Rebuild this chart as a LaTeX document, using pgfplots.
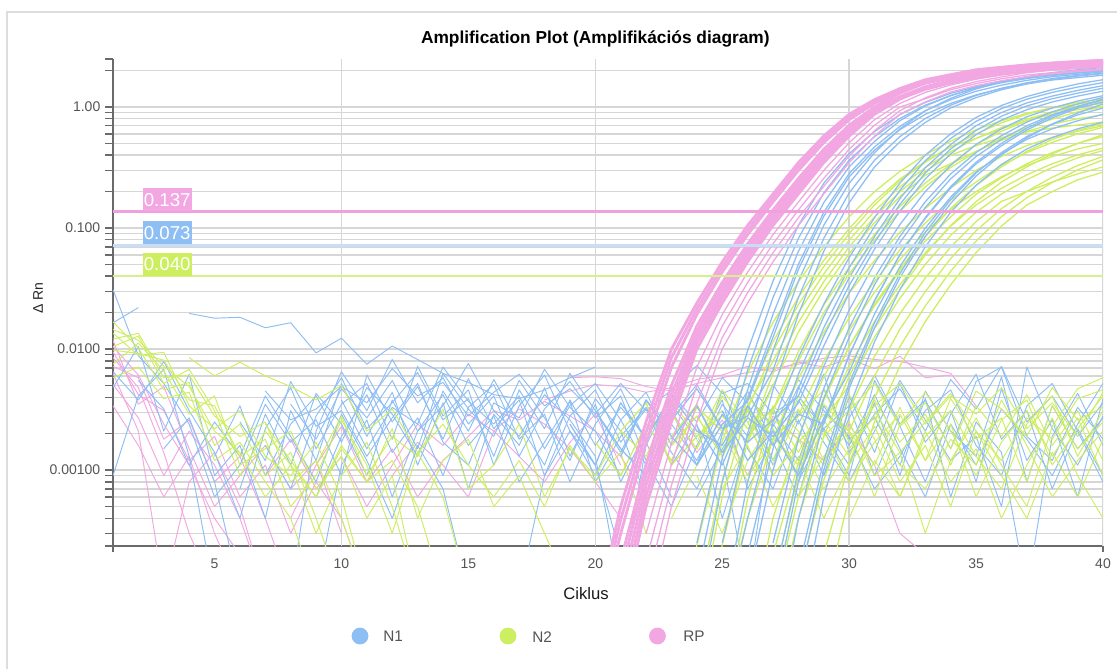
\documentclass[border=0pt]{standalone}
\usepackage{fontspec}
\setmainfont{Liberation Sans}
\usepackage{pgfplots}
\pgfplotsset{compat=1.18}
\definecolor{Nonec}{HTML}{8DBEF4}
\definecolor{Ntwoc}{HTML}{CDEE5E}
\definecolor{RPc}{HTML}{F2A6E2}
\definecolor{RPthr}{HTML}{F0A0DC}
\definecolor{Nonethr}{HTML}{C8DDF8}
\definecolor{Ntwothr}{HTML}{D6F08A}
\definecolor{gridc}{HTML}{D6D6D6}
\definecolor{axc}{HTML}{6A6A6A}
\definecolor{labc}{HTML}{555555}
\definecolor{framec}{HTML}{DDDDDD}
\pgfplotsset{
  nz/.style={line width=0.7pt, line join=round},
  cv/.style={line width=0.95pt, line join=round},
  cvt/.style={line width=2.1pt, line join=round},
}
\begin{document}
\begin{tikzpicture}
\useasboundingbox (0,0) rectangle (837.75pt,-501.75pt);
\fill[white] (0,0) rectangle (837.75pt,-501.75pt);
\draw[framec, line width=1pt] (5.25pt,-501.75pt) -- (5.25pt,-9pt) -- (837.75pt,-9pt);
\begin{axis}[
  at={(84.75pt,-409.5pt)}, anchor=south west,
  scale only axis, width=742.5pt, height=365.4pt,
  xmin=1, xmax=40, ymode=log, ymin=0.000236, ymax=2.5,
  axis lines*=left,
  axis line style={draw=axc, line width=1.1pt},
  xtick={5,10,15,20,25,30,35,40},
  ytick={0.001,0.01,0.1,1},
  yticklabels={0.00100,0.0100,0.100,1.00},
  minor ytick={0.0003,0.0004,0.0005,0.0006,0.0007,0.0008,0.0009,0.002,0.003,0.004,0.005,0.006,0.007,0.008,0.009,0.02,0.03,0.04,0.05,0.06,0.07,0.08,0.09,0.2,0.3,0.4,0.5,0.6,0.7,0.8,0.9,2},
  tick align=outside, major tick length=6pt, minor tick length=6pt,
  tick style={draw=axc, line width=1.1pt},
  xtick style={draw=none},
  ymajorgrids, yminorgrids,
  major grid style={draw=gridc, line width=1.1pt},
  minor grid style={draw=gridc, line width=1.1pt},
  /pgf/number format/assume math mode=true,
  ticklabel style={font=\fontsize{10.5}{12}\selectfont, text=labc},
  clip=true,
]
% vertical grid lines
\draw[gridc, line width=1.1pt] (axis cs:10,0.000236) -- (axis cs:10,2.5);
\draw[gridc, line width=1.1pt] (axis cs:20,0.000236) -- (axis cs:20,2.5);
\draw[gridc, line width=1.1pt] (axis cs:30,0.000236) -- (axis cs:30,2.5);
\draw[gridc, line width=1.1pt] (axis cs:40,0.000236) -- (axis cs:40,2.5);

% ---------------- RP noise ----------------
\addplot[RPc, nz] coordinates {(1,0.0095)(2,0.0042)(3,0.0031)(4,0.0012)(5,0.0019)(6,0.0006)(7,0.0011)(8,0.0003)(9,0.0008)(10,0.0004)(11,0.0001)};
\addplot[RPc, nz] coordinates {(1,0.0072)(2,0.0058)(3,0.0018)(4,0.0026)(5,0.0008)(6,0.0013)(7,0.0004)(8,0.0001)};
\addplot[RPc, nz] coordinates {(1,0.0118)(2,0.0035)(3,0.0049)(4,0.0015)(5,0.0005)(6,0.0009)(7,0.0016)(8,0.0007)(9,0.0012)(10,0.0003)};
\addplot[RPc, nz] coordinates {(1,0.0051)(2,0.0027)(3,0.0009)(4,0.0021)(5,0.0011)(6,0.0004)(7,0.0001)};
\addplot[RPc, nz] coordinates {(1,0.0063)(2,0.0021)(3,0.0001)(4,0.0008)(5,0.0014)(6,0.0005)(7,0.0001)};
\addplot[RPc, nz] coordinates {(1,0.0105)(2,0.0061)(3,0.0024)(4,0.0011)(5,0.0004)(6,0.0002)};
\addplot[RPc, nz] coordinates {(1,0.0085)(2,0.0048)(3,0.0014)(4,0.0003)(5,0.0001)};
\addplot[RPc, nz] coordinates {(1,0.0034)(2,0.0016)(3,0.0006)(4,0.0013)(5,0.0003)(6,0.0001)};
\addplot[RPc, nz] coordinates {(7,0.0009)(8,0.0018)(9,0.0007)(10,0.0013)(11,0.0005)(12,0.0011)(13,0.0024)(14,0.0016)(15,0.0029)(16,0.0021)(17,0.0032)(18,0.0024)(19,0.0015)(20,0.0008)(21,0.0004)};
\addplot[RPc, nz] coordinates {(8,0.0004)(9,0.0011)(10,0.0023)(11,0.0008)(12,0.0015)(13,0.0006)(14,0.0012)(15,0.0019)(16,0.0031)(17,0.0026)(18,0.0037)(19,0.0028)(20,0.0021)(21,0.0013)(22,0.0006)};
\addplot[RPc, nz] coordinates {(18,0.0038)(19,0.0045)(20,0.0051)(21,0.0049)(22,0.0044)(23,0.0048)(24,0.0056)(25,0.0061)(26,0.0072)(27,0.0065)(28,0.0078)(29,0.0071)(30,0.0083)(31,0.0069)(32,0.0087)(33,0.0058)(34,0.0061)};
\addplot[RPc, nz] coordinates {(19,0.0058)(20,0.0059)(21,0.0057)(22,0.0049)(23,0.0045)(24,0.0052)(25,0.0058)(26,0.0064)(27,0.0069)(28,0.0075)(29,0.0084)(30,0.0088)(31,0.0082)(32,0.0079)(33,0.0071)(34,0.0063)(35,0.0034)};
\addplot[RPc, nz] coordinates {(22,0.0022)(23,0.0031)(24,0.0014)(25,0.0026)(26,0.0009)(27,0.0028)(28,0.0018)(29,0.0012)(30,0.0024)(31,0.0011)(32,0.0003)(33,0.0002)};
\addplot[RPc, nz] coordinates {(12,0.0009)(13,0.0017)(14,0.0011)(15,0.0006)(16,0.0021)(17,0.0013)(18,0.0008)(19,0.0017)(20,0.0029)(21,0.0011)};

% ---------------- N1 noise ----------------
\addplot[Nonec, nz] coordinates {(1,0.0048)(2,0.0105)(3,0.0021)(4,0.0062)(5,0.0009)(6,0.0016)(7,0.0004)(8,0.0031)(9,0.0012)(10,0.0052)(11,0.0019)(12,0.0044)(13,0.0011)(14,0.0036)(15,0.0007)(16,0.0029)(17,0.0016)(18,0.0048)(19,0.0013)(20,0.0035)(21,0.0008)(22,0.0021)(23,0.0031)(24,0.0011)(25,0.0046)(26,0.0015)(27,0.0007)(28,0.0026)(29,0.0009)(30,0.0041)(31,0.0014)(32,0.0052)(33,0.0017)(34,0.0031)(35,0.0008)(36,0.0047)(37,0.0012)(38,0.0026)(39,0.0006)(40,0.0039)};
\addplot[Nonec, nz] coordinates {(1,0.031)(2,0.0088)(3,0.0052)(4,0.0024)(5,0.0006)(6,0.0011)(7,0.0035)(8,0.0017)(9,0.0026)(10,0.0009)(11,0.0061)(12,0.0025)(13,0.0049)(14,0.0018)(15,0.0057)(16,0.0022)(17,0.0038)(18,0.0009)(19,0.0028)(20,0.0046)(21,0.0017)(22,0.0032)(23,0.0011)(24,0.0024)(25,0.0004)(26,0.0019)(27,0.0033)(28,0.0008)(29,0.0022)(30,0.0011)(31,0.0036)(32,0.0009)(33,0.0045)(34,0.0021)(35,0.0013)(36,0.0059)(37,0.0008)(38,0.0034)(39,0.0015)(40,0.0027)};
\addplot[Nonec, nz] coordinates {(1,0.0009)(2,0.0041)(3,0.0068)(4,0.0013)(5,0.0001)(8,0.0001)(9,0.0021)(10,0.0065)(11,0.0031)(12,0.0082)(13,0.0036)(14,0.0058)(15,0.0024)(16,0.0041)(17,0.0013)(18,0.0032)(19,0.0054)(20,0.0027)(21,0.0041)(22,0.0012)(23,0.0005)(24,0.0016)(25,0.0038)(26,0.0007)(27,0.0018)(28,0.0049)(29,0.0021)(30,0.0009)(31,0.0055)(32,0.0023)(33,0.0008)(34,0.0029)(35,0.0062)(36,0.0018)(37,0.0031)(38,0.0007)(39,0.0022)(40,0.0009)};
\addplot[Nonec, nz] coordinates {(1,0.0065)(2,0.0038)(3,0.0079)(4,0.0031)(5,0.0014)(6,0.0004)(7,0.0022)(8,0.0048)(9,0.0015)(10,0.0035)(11,0.0052)(12,0.0018)(13,0.0072)(14,0.0028)(15,0.0046)(16,0.0011)(17,0.0034)(18,0.0061)(19,0.0021)(20,0.0009)(21,0.0026)(22,0.0044)(23,0.0016)(24,0.0035)(25,0.0013)(26,0.0001)(27,0.0024)(28,0.0012)(29,0.0047)(30,0.0018)(31,0.0027)(32,0.0011)(33,0.0039)(34,0.0006)(35,0.0025)(36,0.0014)(37,0.0001)(38,0.0019)(39,0.0043)(40,0.0016)};
\addplot[Nonec, nz] coordinates {(6,0.0007)(7,0.0029)(8,0.0011)(9,0.0043)(10,0.0024)(11,0.0009)(12,0.0038)(13,0.0015)(14,0.0063)(15,0.0032)(16,0.0019)(17,0.0055)(18,0.0027)(19,0.0012)(20,0.0039)(21,0.0021)(22,0.0006)(23,0.0028)(24,0.0051)(25,0.0022)(26,0.0033)(27,0.0009)};
\addplot[Nonec, nz] coordinates {(8,0.0035)(9,0.0018)(10,0.0047)(11,0.0027)(12,0.0055)(13,0.0021)(14,0.0034)(15,0.0076)(16,0.0031)(17,0.0019)(18,0.0042)(19,0.0026)(20,0.0013)(21,0.0001)(22,0.0016)(23,0.0042)(24,0.0025)(25,0.0058)(26,0.0036)(27,0.0012)(28,0.0031)};
\addplot[Nonec, nz] coordinates {(3,0.0015)(4,0.0027)(5,0.0008)(6,0.0001)(9,0.0001)(10,0.0011)(11,0.0026)(12,0.0006)(13,0.0021)(14,0.0042)(15,0.0016)(16,0.0028)(17,0.0008)(18,0.0017)(19,0.0037)(20,0.0008)(21,0.0019)(22,0.0033)(23,0.0014)(24,0.0007)(25,0.0021)(26,0.0045)(27,0.0017)(28,0.0006)(29,0.0034)(30,0.0016)(31,0.0042)(32,0.0015)(33,0.0006)(34,0.0024)(35,0.0011)(36,0.0032)(37,0.0018)(38,0.0009)(39,0.0024)(40,0.0052)};
\addplot[Nonec, nz] coordinates {(7,0.0045)(8,0.0026)(9,0.0032)(10,0.0049)(11,0.0036)(12,0.0069)(13,0.0041)(14,0.0053)(15,0.0028)(16,0.0044)(17,0.0062)(18,0.0034)(19,0.0047)(20,0.0029)(21,0.0052)(22,0.0031)(23,0.0046)(24,0.0073)(25,0.0043)(26,0.0052)(27,0.0029)(28,0.0041)(29,0.0022)(30,0.0034)(31,0.0009)(32,0.0028)};
\addplot[Nonec, nz] coordinates {(4,0.0197)(5,0.018)(6,0.0183)(7,0.015)(8,0.0165)(9,0.0093)(10,0.0123)(11,0.0075)(12,0.0106)(13,0.0082)(14,0.0063)(15,0.0053)(16,0.0042)(17,0.0039)(18,0.0046)(19,0.0058)(20,0.0071)};
\addplot[Nonec, nz] coordinates {(1,0.0165)(2,0.022)};
\addplot[Nonec, nz] coordinates {(22,0.0009)(23,0.0024)(24,0.0012)(25,0.0035)(26,0.0019)(27,0.0051)(28,0.0024)(29,0.0062)(30,0.0014)(31,0.0029)(32,0.0047)(33,0.0021)(34,0.0056)(35,0.0032)(36,0.0072)(37,0.0025)(38,0.0041)(39,0.0019)(40,0.0036)};
\addplot[Nonec, nz] coordinates {(24,0.0006)(25,0.0015)(26,0.0032)(27,0.0011)(28,0.0038)(29,0.0017)(30,0.0008)(31,0.0021)(32,0.0055)(33,0.0026)(34,0.0012)(35,0.0019)(36,0.0005)(37,0.0071)(38,0.0022)(39,0.0011)(40,0.0028)};
\addplot[Nonec, nz] coordinates {(5,0.0013)(6,0.0034)(7,0.0009)(8,0.0024)(9,0.0041)(10,0.0017)(11,0.0048)(12,0.0029)(13,0.0013)(14,0.0045)(15,0.0021)(16,0.0056)(17,0.0024)(18,0.0011)(19,0.0038)(20,0.0016)(21,0.0033)(22,0.0019)};
\addplot[Nonec, nz] coordinates {(7,0.0016)(8,0.0007)(9,0.0028)(10,0.0058)(11,0.0022)(12,0.0036)(13,0.0064)(14,0.0026)(15,0.0039)(16,0.0013)(17,0.0046)(18,0.0022)(19,0.0063)(20,0.0031)(21,0.0014)(22,0.0038)(23,0.0022)};
\addplot[Nonec, nz] coordinates {(9,0.0006)(10,0.0019)(11,0.0042)(12,0.0014)(13,0.0027)(14,0.0009)(15,0.0033)(16,0.0051)(17,0.0018)(18,0.0029)(19,0.0008)(20,0.0024)(21,0.0047)(22,0.0017)(23,0.0006)};
\addplot[Nonec, nz] coordinates {(6,0.0025)(7,0.0012)(8,0.0054)(9,0.0023)(10,0.0031)(11,0.0013)(12,0.0027)(13,0.0052)(14,0.0017)(15,0.0011)(16,0.0036)(17,0.0027)(18,0.0068)(19,0.0033)(20,0.0021)(21,0.0009)};
\addplot[Nonec, nz] coordinates {(10,0.0038)(11,0.0015)(12,0.0033)(13,0.0024)(14,0.0071)(15,0.0037)(16,0.0024)(17,0.0041)(18,0.0015)(19,0.0034)(20,0.0052)(21,0.0026)(22,0.0011)(23,0.0035)(24,0.0018)};
\addplot[Nonec, nz] coordinates {(2,0.0055)(3,0.0032)(4,0.0011)(5,0.0025)(6,0.0013)(7,0.0041)(8,0.0019)(9,0.0008)(10,0.0029)(11,0.0012)(12,0.0004)(13,0.0016)(14,0.0007)(15,0.0001)(17,0.0001)(18,0.0009)(19,0.0021)(20,0.0011)(21,0.0002)};
\addplot[Nonec, nz] coordinates {(26,0.0041)(27,0.0023)(28,0.0056)(29,0.0031)(30,0.0019)(31,0.0007)(32,0.0013)(33,0.0031)(34,0.0046)(35,0.0016)(36,0.0009)(37,0.0034)(38,0.0052)(39,0.0021)(40,0.0008)};
\addplot[Nonec, nz] coordinates {(29,0.0009)(30,0.0027)(31,0.0061)(32,0.0024)(33,0.0038)(34,0.0015)(35,0.0054)(36,0.0071)(37,0.0019)(38,0.0012)(39,0.0033)(40,0.0018)};

% ---------------- N2 noise ----------------
\addplot[Ntwoc, nz] coordinates {(1,0.0145)(2,0.0118)(3,0.0072)(4,0.0049)(5,0.0021)(6,0.0014)(7,0.0006)(8,0.0011)(9,0.0003)(10,0.0009)(11,0.0017)(12,0.0005)(13,0.0001)};
\addplot[Ntwoc, nz] coordinates {(1,0.0121)(2,0.0135)(3,0.0058)(4,0.0061)(5,0.0028)(6,0.0019)(7,0.0025)(8,0.0008)(9,0.0012)(10,0.0004)(11,0.0001)};
\addplot[Ntwoc, nz] coordinates {(1,0.0098)(2,0.0092)(3,0.0081)(4,0.0038)(5,0.0034)(6,0.0013)(7,0.0018)(8,0.0005)(9,0.0009)(10,0.0026)(11,0.0011)(12,0.0003)(13,0.0014)(14,0.0006)(15,0.0001)};
\addplot[Ntwoc, nz] coordinates {(1,0.0168)(2,0.0102)(3,0.0046)(4,0.0053)(5,0.0016)(6,0.0024)(7,0.0009)(8,0.0014)(9,0.0004)(10,0.0001)};
\addplot[Ntwoc, nz] coordinates {(1,0.0075)(2,0.0112)(3,0.0066)(4,0.0029)(5,0.0041)(6,0.0011)(7,0.0015)(8,0.0021)(9,0.0007)(10,0.0013)(11,0.0004)(12,0.0009)(13,0.0001)};
\addplot[Ntwoc, nz] coordinates {(4,0.0085)(5,0.006)(6,0.0078)(7,0.006)(8,0.0049)(9,0.0038)(10,0.005)(11,0.0021)(12,0.0032)(13,0.0014)(14,0.0024)(15,0.0011)(16,0.0006)(17,0.0012)(18,0.0005)(19,0.0016)(20,0.0008)(21,0.0014)(22,0.0003)};
\addplot[Ntwoc, nz] coordinates {(1,0.0058)(2,0.0071)(3,0.0039)(4,0.0044)(5,0.0012)(6,0.0017)(7,0.0008)(8,0.0004)(9,0.0001)};
\addplot[Ntwoc, nz] coordinates {(1,0.0135)(2,0.0089)(3,0.0094)(4,0.0034)(5,0.0022)(6,0.0031)(7,0.0013)(8,0.0009)(9,0.0017)(10,0.0006)(11,0.0001)};
\addplot[Ntwoc, nz] coordinates {(1,0.0105)(2,0.0128)(3,0.0052)(4,0.0068)(5,0.0031)(6,0.0009)(7,0.0021)(8,0.0011)(9,0.0006)(10,0.0016)(11,0.0008)(12,0.0012)(13,0.0005)(14,0.0001)};
\addplot[Ntwoc, nz] coordinates {(9,0.0011)(10,0.0028)(11,0.0009)(12,0.0019)(13,0.0013)(14,0.0032)(15,0.0007)(16,0.0011)(17,0.0024)(18,0.0006)(19,0.0015)(20,0.0009)(21,0.0021)(22,0.0013)(23,0.0038)(24,0.0019)(25,0.0031)};
\addplot[Ntwoc, nz] coordinates {(7,0.0024)(8,0.0012)(9,0.0006)(10,0.0015)(11,0.0008)(12,0.0022)(13,0.0004)(14,0.0012)(15,0.0018)(16,0.0005)(17,0.0009)(18,0.0003)(19,0.0001)};
\addplot[Ntwoc, nz] coordinates {(22,0.0008)(23,0.0019)(24,0.0035)(25,0.0014)(26,0.0041)(27,0.0022)(28,0.0009)(29,0.0026)(30,0.0013)(31,0.0038)(32,0.0017)(33,0.0029)(34,0.0011)(35,0.0034)(36,0.0019)(37,0.0042)(38,0.0016)(39,0.0031)(40,0.0012)};
\addplot[Ntwoc, nz] coordinates {(23,0.0004)(24,0.0011)(25,0.0024)(26,0.0009)(27,0.0017)(28,0.0032)(29,0.0012)(30,0.0021)(31,0.0006)(32,0.0024)(33,0.0044)(34,0.0021)(35,0.0009)(36,0.0026)(37,0.0038)(38,0.0011)(39,0.0022)(40,0.0041)};
\addplot[Ntwoc, nz] coordinates {(24,0.0017)(25,0.0046)(26,0.0025)(27,0.0031)(28,0.0014)(29,0.0035)(30,0.0021)(31,0.0011)(32,0.0033)(33,0.0012)(34,0.0039)(35,0.0018)(36,0.0027)(37,0.0008)(38,0.0034)(39,0.0015)(40,0.0025)};
\addplot[Ntwoc, nz] coordinates {(25,0.0007)(26,0.0016)(27,0.0005)(28,0.0013)(29,0.0004)(30,0.0011)(31,0.0023)(32,0.0008)(33,0.0016)(34,0.0005)(35,0.0021)(36,0.0009)(37,0.0004)(38,0.0014)(39,0.0006)(40,0.0018)};
\addplot[Ntwoc, nz] coordinates {(26,0.0028)(27,0.0012)(28,0.0041)(29,0.0019)(30,0.0031)(31,0.0052)(32,0.0023)(33,0.0036)(34,0.0015)(35,0.0045)(36,0.0032)(37,0.0019)(38,0.0048)(39,0.0026)(40,0.0033)};
\addplot[Ntwoc, nz] coordinates {(28,0.0006)(29,0.0013)(30,0.0025)(31,0.0009)(32,0.0014)(33,0.0003)(34,0.0012)(35,0.0027)(36,0.0011)(37,0.0005)(38,0.0023)(39,0.0047)(40,0.0058)};
\addplot[Ntwoc, nz] coordinates {(29,0.0021)(30,0.0008)(31,0.0017)(32,0.0029)(33,0.0012)(34,0.0024)(35,0.0006)(36,0.0017)(37,0.0031)(38,0.0013)(39,0.0027)(40,0.0009)};
\addplot[Ntwoc, nz] coordinates {(24,0.0009)(25,0.0003)(26,0.0012)(27,0.0026)(28,0.0018)(29,0.0007)(30,0.0015)(31,0.0028)(32,0.0011)(33,0.0007)(34,0.0018)(35,0.0011)(36,0.0038)(37,0.0016)(38,0.0006)(39,0.0012)(40,0.0021)};
\addplot[Ntwoc, nz] coordinates {(27,0.0011)(28,0.0028)(29,0.0046)(30,0.0017)(31,0.0034)(32,0.0052)(33,0.0024)(34,0.0041)(35,0.0029)(36,0.0048)(37,0.0022)(38,0.0036)(39,0.0019)(40,0.0044)};
\addplot[Ntwoc, nz] coordinates {(30,0.0004)(31,0.0012)(32,0.0006)(33,0.0021)(34,0.0008)(35,0.0015)(36,0.0004)(37,0.0011)(38,0.0027)(39,0.0009)(40,0.0004)};
\addplot[Ntwoc, nz] coordinates {(31,0.0031)(32,0.0014)(33,0.0025)(34,0.0043)(35,0.0021)(36,0.0012)(37,0.0027)(38,0.0018)(39,0.0039)(40,0.0046)};
\addplot[Ntwoc, nz] coordinates {(25,0.0021)(26,0.0008)(27,0.0034)(28,0.0021)(29,0.0011)(30,0.0042)(31,0.0018)(32,0.0006)(33,0.0019)(34,0.0031)(35,0.0013)(36,0.0007)(37,0.0024)(38,0.0041)(39,0.0013)(40,0.0031)};

% ---------------- N2 amplification, late group ----------------
\addplot[Ntwoc, cv] coordinates {(27,0.0002)(28,0.00115)(29,0.00398)(30,0.0105)(31,0.0227)(32,0.044)(33,0.078)(34,0.1236)(35,0.19)(36,0.26)(37,0.34)(38,0.42)(39,0.5)(40,0.57)};
\addplot[Ntwoc, cv] coordinates {(27,0.00008)(28,0.0006)(29,0.00251)(30,0.00724)(31,0.0169)(32,0.034)(33,0.0625)(34,0.1038)(35,0.155)(36,0.213)(37,0.275)(38,0.34)(39,0.402)(40,0.457)};
\addplot[Ntwoc, cv] coordinates {(25,0.0014)(26,0.0032)(27,0.0019)(28,0.0011)(29,0.0026)(30,0.00501)(31,0.0126)(32,0.0263)(33,0.0501)(34,0.0871)(35,0.135)(36,0.191)(37,0.251)(38,0.316)(39,0.38)(40,0.437)};
\addplot[Ntwoc, cv] coordinates {(28,0.000126)(29,0.00083)(30,0.00316)(31,0.0087)(32,0.0196)(33,0.0387)(34,0.0698)(35,0.113)(36,0.166)(37,0.2)(38,0.24)(39,0.28)(40,0.32)};
\addplot[Ntwoc, cv] coordinates {(26,0.0025)(27,0.0009)(28,0.0017)(29,0.0029)(30,0.0021)(31,0.006)(32,0.0146)(33,0.0299)(34,0.056)(35,0.095)(36,0.1445)(37,0.201)(38,0.263)(39,0.328)(40,0.391)};
\addplot[Ntwoc, cv] coordinates {(29,0.0002)(30,0.00115)(31,0.00398)(32,0.0105)(33,0.0227)(34,0.044)(35,0.078)(36,0.124)(37,0.178)(38,0.238)(39,0.302)(40,0.366)};
\addplot[Ntwoc, cv] coordinates {(29,0.00008)(30,0.0006)(31,0.00251)(32,0.00724)(33,0.0169)(34,0.034)(35,0.0625)(36,0.1038)(37,0.155)(38,0.2)(39,0.25)(40,0.29)};
\addplot[Ntwoc, cv] coordinates {(27,0.00005)(28,0.0004)(29,0.0019)(30,0.006)(31,0.0148)(32,0.031)(33,0.06)(34,0.105)(35,0.165)(36,0.24)(37,0.32)(38,0.41)(39,0.5)(40,0.59)};
\addplot[Ntwoc, cv] coordinates {(27,0.00012)(28,0.0009)(29,0.0038)(30,0.0105)(31,0.0235)(32,0.046)(33,0.085)(34,0.145)(35,0.225)(36,0.32)(37,0.43)(38,0.54)(39,0.64)(40,0.73)};
% middle group
\addplot[Ntwoc, cv] coordinates {(23,0.0016)(24,0.0028)(25,0.0013)(26,0.0031)(27,0.0019)(28,0.00282)(29,0.00794)(30,0.0182)(31,0.0363)(32,0.066)(33,0.11)(34,0.17)(35,0.24)(36,0.33)(37,0.42)(38,0.51)(39,0.6)(40,0.68)};
\addplot[Ntwoc, cv] coordinates {(25,0.00006)(26,0.0004)(27,0.0018)(28,0.0057)(29,0.0138)(30,0.029)(31,0.054)(32,0.092)(33,0.145)(34,0.215)(35,0.3)(36,0.39)(37,0.48)(38,0.56)(39,0.63)(40,0.7)};
\addplot[Ntwoc, cv] coordinates {(26,0.00004)(27,0.0004)(28,0.0019)(29,0.0059)(30,0.0142)(31,0.0295)(32,0.055)(33,0.093)(34,0.143)(35,0.2)(36,0.265)(37,0.33)(38,0.39)(39,0.45)(40,0.5)};

% ---------------- N2 amplification, early group ----------------
\addplot[Ntwoc, cv] coordinates {(23,0.00003)(24,0.00024)(25,0.00174)(26,0.0063)(27,0.0166)(28,0.036)(29,0.0698)(30,0.124)(31,0.2)(32,0.294)(33,0.402)(34,0.522)(35,0.649)(36,0.769)(37,0.887)(38,0.982)(39,1.057)(40,1.12)};
\addplot[Ntwoc, cv] coordinates {(24,0.000087)(25,0.00083)(26,0.00398)(27,0.0115)(28,0.0268)(29,0.054)(30,0.099)(31,0.166)(32,0.254)(33,0.356)(34,0.472)(35,0.55)(36,0.66)(37,0.77)(38,0.87)(39,0.95)(40,1.01)};
\addplot[Ntwoc, cv] coordinates {(20,0.0017)(21,0.0009)(22,0.0024)(23,0.0012)(24,0.0033)(25,0.0021)(26,0.0034)(27,0.00794)(28,0.02)(29,0.0417)(30,0.0794)(31,0.138)(32,0.219)(33,0.316)(34,0.427)(35,0.55)(36,0.676)(37,0.794)(38,0.912)(39,1.0)(40,1.072)};
\addplot[Ntwoc, cv] coordinates {(21,0.0021)(22,0.0036)(23,0.0011)(24,0.0019)(25,0.0028)(26,0.0017)(27,0.005)(28,0.0138)(29,0.031)(30,0.0614)(31,0.1107)(32,0.182)(33,0.273)(34,0.34)(35,0.43)(36,0.53)(37,0.63)(38,0.72)(39,0.8)(40,0.86)};
\addplot[Ntwoc, cv] coordinates {(25,0.00005)(26,0.00058)(27,0.00316)(28,0.00955)(29,0.0231)(30,0.0474)(31,0.0887)(32,0.151)(33,0.236)(34,0.336)(35,0.49)(36,0.63)(37,0.77)(38,0.9)(39,1.02)(40,1.12)};
\addplot[Ntwoc, cv] coordinates {(24,0.00003)(25,0.00024)(26,0.00174)(27,0.0063)(28,0.0166)(29,0.036)(30,0.0698)(31,0.1236)(32,0.1995)(33,0.294)(34,0.40)(35,0.48)(36,0.56)(37,0.62)(38,0.67)(39,0.71)(40,0.75)};
\addplot[Ntwoc, cv] coordinates {(22,0.0012)(23,0.0029)(24,0.0015)(25,0.0041)(26,0.0022)(27,0.0031)(28,0.00794)(29,0.02)(30,0.0417)(31,0.0794)(32,0.138)(33,0.219)(34,0.316)(35,0.427)(36,0.55)(37,0.676)(38,0.794)(39,0.912)(40,1.0)};
\addplot[Ntwoc, cv] coordinates {(24,0.00005)(25,0.0006)(26,0.0032)(27,0.0096)(28,0.0233)(29,0.048)(30,0.09)(31,0.155)(32,0.245)(33,0.35)(34,0.47)(35,0.6)(36,0.74)(37,0.87)(38,0.99)(39,1.09)(40,1.17)};

% ---------------- N1 amplification, late group ----------------
\addplot[Nonec, cv] coordinates {(27,0.000112)(28,0.001)(29,0.00473)(30,0.015)(31,0.0389)(32,0.0851)(33,0.165)(34,0.28)(35,0.42)(36,0.58)(37,0.75)(38,0.91)(39,1.06)(40,1.2)};
\addplot[Nonec, cv] coordinates {(27,0.00003)(28,0.000398)(29,0.00251)(30,0.00891)(31,0.0251)(32,0.0603)(33,0.122)(34,0.22)(35,0.35)(36,0.5)(37,0.67)(38,0.84)(39,1.0)(40,1.15)};
\addplot[Nonec, cv] coordinates {(24,0.0023)(25,0.0011)(26,0.0034)(27,0.0016)(28,0.0029)(29,0.0024)(30,0.00891)(31,0.0251)(32,0.0603)(33,0.120)(34,0.214)(35,0.339)(36,0.479)(37,0.646)(38,0.813)(39,0.977)(40,1.1)};
\addplot[Nonec, cv] coordinates {(28,0.000112)(29,0.001)(30,0.00473)(31,0.015)(32,0.0389)(33,0.0851)(34,0.160)(35,0.269)(36,0.403)(37,0.556)(38,0.724)(39,0.891)(40,1.059)};
\addplot[Nonec, cv] coordinates {(25,0.0031)(26,0.0012)(27,0.0021)(28,0.0009)(29,0.0027)(30,0.0065)(31,0.0195)(32,0.048)(33,0.1)(34,0.18)(35,0.29)(36,0.41)(37,0.54)(38,0.66)(39,0.77)(40,0.87)};
\addplot[Nonec, cv] coordinates {(27,0.00008)(28,0.0008)(29,0.0039)(30,0.0125)(31,0.034)(32,0.076)(33,0.148)(34,0.255)(35,0.39)(36,0.54)(37,0.7)(38,0.86)(39,1.01)(40,1.16)};
\addplot[Nonec, cv] coordinates {(28,0.00005)(29,0.0006)(30,0.0033)(31,0.0115)(32,0.031)(33,0.07)(34,0.135)(35,0.225)(36,0.335)(37,0.45)(38,0.56)(39,0.66)(40,0.75)};
\addplot[Nonec, cv] coordinates {(28,0.00015)(29,0.0012)(30,0.0052)(31,0.0165)(32,0.042)(33,0.092)(34,0.172)(35,0.285)(36,0.42)(37,0.57)(38,0.72)(39,0.86)(40,0.98)};

% ---------------- N1 amplification, middle group ----------------
\addplot[Nonec, cv] coordinates {(25,0.00005)(26,0.0004)(27,0.0025)(28,0.0085)(29,0.0235)(30,0.057)(31,0.122)(32,0.235)(33,0.40)(34,0.6)(35,0.82)(36,1.03)(37,1.22)(38,1.39)(39,1.55)(40,1.68)};
\addplot[Nonec, cv] coordinates {(26,0.000112)(27,0.001)(28,0.00473)(29,0.015)(30,0.0389)(31,0.0851)(32,0.175)(33,0.315)(34,0.49)(35,0.7)(36,0.9)(37,1.08)(38,1.23)(39,1.37)(40,1.5)};
\addplot[Nonec, cv] coordinates {(23,0.0018)(24,0.0034)(25,0.0014)(26,0.0027)(27,0.0019)(28,0.0036)(29,0.0106)(30,0.029)(31,0.067)(32,0.138)(33,0.255)(34,0.41)(35,0.59)(36,0.78)(37,0.95)(38,1.1)(39,1.23)(40,1.35)};
\addplot[Nonec, cv] coordinates {(27,0.00025)(28,0.0018)(29,0.0072)(30,0.021)(31,0.051)(32,0.107)(33,0.2)(34,0.33)(35,0.49)(36,0.66)(37,0.83)(38,0.98)(39,1.12)(40,1.24)};
\addplot[Nonec, cv] coordinates {(26,0.0002)(27,0.0015)(28,0.0062)(29,0.0185)(30,0.047)(31,0.103)(32,0.205)(33,0.36)(34,0.55)(35,0.76)(36,0.97)(37,1.16)(38,1.32)(39,1.46)(40,1.59)};
\addplot[Nonec, cv] coordinates {(24,0.0011)(25,0.0029)(26,0.0017)(27,0.0026)(28,0.0041)(29,0.0128)(30,0.0335)(31,0.076)(32,0.157)(33,0.285)(34,0.45)(35,0.64)(36,0.84)(37,1.02)(38,1.17)(39,1.3)(40,1.43)};

% ---------------- N1 amplification, early group ----------------
\addplot[Nonec, cv] coordinates {(24,0.000126)(25,0.00126)(26,0.00668)(27,0.0266)(28,0.0822)(29,0.195)(30,0.363)(31,0.569)(32,0.804)(33,1.035)(34,1.245)(35,1.429)(36,1.585)(37,1.718)(38,1.82)(39,1.905)(40,1.985)};
\addplot[Nonec, cv] coordinates {(24,0.000063)(25,0.000794)(26,0.0046)(27,0.0194)(28,0.0642)(29,0.162)(30,0.32)(31,0.52)(32,0.77)(33,1.02)(34,1.24)(35,1.45)(36,1.62)(37,1.77)(38,1.89)(39,1.98)(40,2.06)};
\addplot[Nonec, cv] coordinates {(19,0.0024)(20,0.0011)(21,0.0036)(22,0.0018)(23,0.0042)(24,0.0021)(25,0.0016)(26,0.0039)(27,0.0141)(28,0.0501)(29,0.135)(30,0.282)(31,0.468)(32,0.692)(33,0.933)(34,1.148)(35,1.349)(36,1.514)(37,1.66)(38,1.778)(39,1.862)(40,1.95)};
\addplot[Nonec, cv] coordinates {(25,0.000251)(26,0.002)(27,0.00972)(28,0.0365)(29,0.1053)(30,0.2344)(31,0.42)(32,0.66)(33,0.93)(34,1.18)(35,1.41)(36,1.61)(37,1.78)(38,1.92)(39,2.03)(40,2.12)};
\addplot[Nonec, cv] coordinates {(20,0.0031)(21,0.0015)(22,0.0009)(23,0.0026)(24,0.0047)(25,0.0022)(26,0.0028)(27,0.00668)(28,0.0266)(29,0.0822)(30,0.195)(31,0.363)(32,0.569)(33,0.804)(34,1.035)(35,1.245)(36,1.429)(37,1.585)(38,1.718)(39,1.82)(40,1.905)};
\addplot[Nonec, cv] coordinates {(25,0.000063)(26,0.000794)(27,0.0046)(28,0.0194)(29,0.0642)(30,0.162)(31,0.32)(32,0.516)(33,0.746)(34,0.983)(35,1.195)(36,1.388)(37,1.549)(38,1.689)(39,1.799)(40,1.884)};
\addplot[Nonec, cv] coordinates {(24,0.000251)(25,0.002)(26,0.00972)(27,0.0365)(28,0.1053)(29,0.2344)(30,0.412)(31,0.627)(32,0.866)(33,1.09)(34,1.296)(35,1.471)(36,1.622)(37,1.748)(38,1.841)(39,1.928)(40,2.0)};
\addplot[Nonec, cv] coordinates {(21,0.0013)(22,0.0038)(23,0.0019)(24,0.0011)(25,0.0024)(26,0.0037)(27,0.0125)(28,0.0455)(29,0.125)(30,0.265)(31,0.44)(32,0.65)(33,0.87)(34,1.07)(35,1.26)(36,1.42)(37,1.56)(38,1.67)(39,1.75)(40,1.83)};

% ---------------- RP amplification ----------------
\addplot[RPc, cv] coordinates {(22,0.000299)(23,0.00168)(24,0.00708)(25,0.0193)(26,0.0432)(27,0.0881)(28,0.164)(29,0.299)(30,0.507)(31,0.785)(32,1.07)(33,1.32)(34,1.52)(35,1.70)(36,1.84)(37,1.96)(38,2.06)(39,2.13)(40,2.19)};
\addplot[RPc, cv] coordinates {(22,0.000178)(23,0.00112)(24,0.00501)(25,0.0155)(26,0.0355)(27,0.0741)(28,0.141)(29,0.257)(30,0.447)(31,0.708)(32,1.0)(33,1.17)(34,1.39)(35,1.56)(36,1.71)(37,1.84)(38,1.92)(39,2.0)(40,2.06)};
\addplot[RPc, cv] coordinates {(22,0.000106)(23,0.00075)(24,0.00355)(25,0.01245)(26,0.0292)(27,0.0624)(28,0.1216)(29,0.221)(30,0.394)(31,0.638)(32,0.933)(33,1.19)(34,1.43)(35,1.62)(36,1.77)(37,1.92)(38,2.02)(39,2.1)(40,2.17)};
\addplot[RPc, cv] coordinates {(22,0.00006)(23,0.0005)(24,0.00251)(25,0.01)(26,0.024)(27,0.0525)(28,0.105)(29,0.191)(30,0.347)(31,0.575)(32,0.871)(33,1.10)(34,1.33)(35,1.50)(36,1.65)(37,1.78)(38,1.88)(39,1.96)(40,2.02)};
\addplot[RPc, cvt] coordinates {(20,0.00006)(21,0.0005)(22,0.00251)(23,0.0100)(24,0.0240)(25,0.0525)(26,0.105)(27,0.191)(28,0.347)(29,0.575)(30,0.871)(31,1.15)(32,1.42)(33,1.68)(34,1.85)(35,2.03)(36,2.13)(37,2.23)(38,2.31)(39,2.37)(40,2.42)};
\addplot[RPc, cvt] coordinates {(20,0.00005)(21,0.00039)(22,0.00205)(23,0.0085)(24,0.0215)(25,0.0476)(26,0.096)(27,0.177)(28,0.322)(29,0.54)(30,0.83)(31,1.11)(32,1.38)(33,1.62)(34,1.80)(35,1.97)(36,2.08)(37,2.18)(38,2.26)(39,2.32)(40,2.38)};
\addplot[RPc, cvt] coordinates {(20,0.00004)(21,0.000299)(22,0.00168)(23,0.00708)(24,0.0193)(25,0.0432)(26,0.0881)(27,0.164)(28,0.299)(29,0.507)(30,0.785)(31,1.07)(32,1.34)(33,1.57)(34,1.74)(35,1.91)(36,2.02)(37,2.11)(38,2.19)(39,2.25)(40,2.30)};
\addplot[RPc, cvt] coordinates {(21,0.000178)(22,0.00112)(23,0.00501)(24,0.0155)(25,0.0355)(26,0.0741)(27,0.141)(28,0.257)(29,0.447)(30,0.708)(31,1.0)(32,1.30)(33,1.58)(34,1.78)(35,1.96)(36,2.10)(37,2.21)(38,2.30)(39,2.37)(40,2.43)};
\addplot[RPc, cvt] coordinates {(21,0.00014)(22,0.00092)(23,0.0042)(24,0.0139)(25,0.0322)(26,0.068)(27,0.131)(28,0.238)(29,0.42)(30,0.672)(31,0.96)(32,1.22)(33,1.47)(34,1.66)(35,1.83)(36,1.96)(37,2.06)(38,2.14)(39,2.21)(40,2.26)};
\addplot[RPc, cvt] coordinates {(21,0.000106)(22,0.00075)(23,0.00355)(24,0.01245)(25,0.0292)(26,0.0624)(27,0.1216)(28,0.221)(29,0.394)(30,0.638)(31,0.92)(32,1.17)(33,1.40)(34,1.58)(35,1.73)(36,1.87)(37,1.96)(38,2.05)(39,2.11)(40,2.17)};
\addplot[RPc, cvt] coordinates {(21,0.00008)(22,0.00061)(23,0.003)(24,0.0112)(25,0.0265)(26,0.057)(27,0.113)(28,0.205)(29,0.37)(30,0.605)(31,0.9)(32,1.19)(33,1.45)(34,1.65)(35,1.83)(36,1.98)(37,2.09)(38,2.18)(39,2.26)(40,2.32)};
\addplot[RPc, cvt] coordinates {(21,0.00006)(22,0.0005)(23,0.00251)(24,0.0100)(25,0.0240)(26,0.0525)(27,0.105)(28,0.191)(29,0.347)(30,0.575)(31,0.871)(32,1.16)(33,1.44)(34,1.66)(35,1.82)(36,2.0)(37,2.10)(38,2.20)(39,2.28)(40,2.33)};

% ---------------- thresholds ----------------
\addplot[RPthr, line width=1.9pt] coordinates {(1,0.137)(40,0.137)};
\addplot[Nonethr, line width=2.2pt] coordinates {(1,0.0715)(40,0.0715)};
\addplot[Ntwothr, line width=1.4pt] coordinates {(1,0.040)(40,0.040)};
\node[fill=RPc, text=white, anchor=south west, inner sep=0pt, minimum width=36.75pt, minimum height=17.25pt, font=\fontsize{14}{14}\selectfont] at (axis cs:2.16,0.137) {0.137};
\node[fill=Nonec, text=white, anchor=south west, inner sep=0pt, minimum width=36.75pt, minimum height=17.25pt, font=\fontsize{14}{14}\selectfont] at (axis cs:2.16,0.073) {0.073};
\node[fill=Ntwoc, text=white, anchor=south west, inner sep=0pt, minimum width=36.75pt, minimum height=17.25pt, font=\fontsize{14}{14}\selectfont] at (axis cs:2.16,0.040) {0.040};
\end{axis}
% axis end ticks
\draw[axc, line width=1.1pt] (84.75pt,-409.5pt) -- ++(0,-4.5pt);
\draw[axc, line width=1.1pt] (827.25pt,-409.5pt) -- ++(0,-4.5pt);
\draw[axc, line width=1.1pt] (84.75pt,-44.1pt) -- ++(-6pt,0);
\draw[axc, line width=1.1pt] (84.75pt,-409.5pt) -- ++(-6pt,0);
% title and labels
\node[font=\bfseries\fontsize{13}{15}\selectfont] at (446.5pt,-29.6pt) {Amplification Plot (Amplifikációs diagram)};
\node[rotate=90, text=black!85, font=\fontsize{10.5}{12}\selectfont] at (28.5pt,-223.5pt) {Δ Rn};
\node[text=black!90, font=\fontsize{12.5}{14}\selectfont] at (439.5pt,-445.5pt) {Ciklus};
% legend
\fill[Nonec] (270pt,-477pt) circle (6.3pt);
\fill[Ntwoc] (381pt,-477pt) circle (6.3pt);
\fill[RPc] (493.1pt,-477pt) circle (6.3pt);
\node[anchor=west, inner sep=0pt, text=labc, font=\fontsize{11.5}{13}\selectfont] at (287.25pt,-477.5pt) {N1};
\node[anchor=west, inner sep=0pt, text=labc, font=\fontsize{11.5}{13}\selectfont] at (399pt,-477.5pt) {N2};
\node[anchor=west, inner sep=0pt, text=labc, font=\fontsize{11.5}{13}\selectfont] at (512.25pt,-477.5pt) {RP};
\end{tikzpicture}
\end{document}
